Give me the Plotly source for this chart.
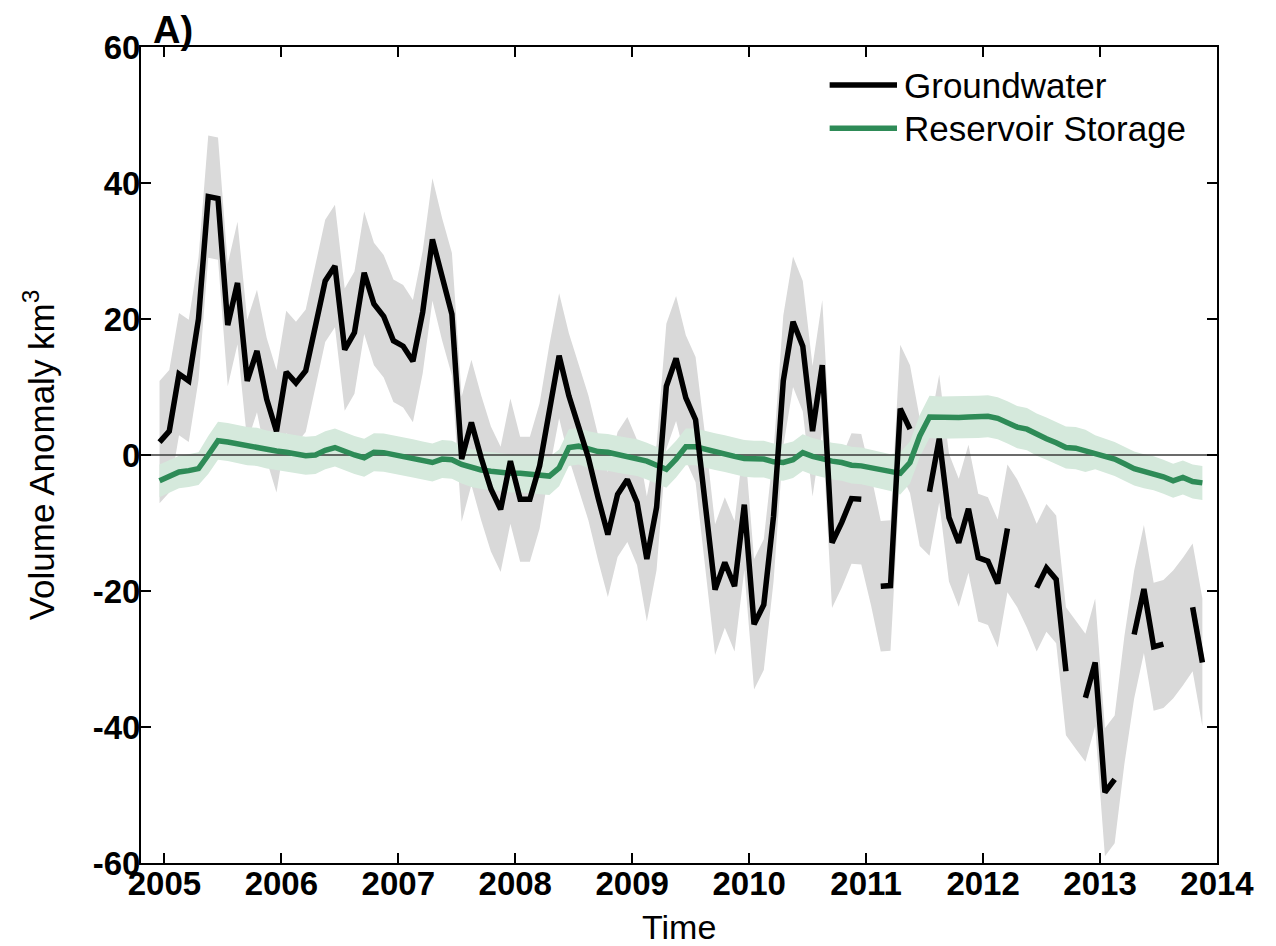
import plotly.graph_objects as go

# ---------------- data ----------------
# monthly samples, mid-month, starting December 2004 (108 months)
n_months = 108
time = [2004 + (11.5 + k) / 12 for k in range(n_months)]

# groundwater storage anomaly (km^3); None = missing month (gap in line)
gw = [
    1.9, 3.5, 11.9, 10.9, 20.0, 38.0, 37.7, 19.1, 25.3, 10.9,
    15.3, 8.2, 3.5, 12.2, 10.6, 12.4, 19.0, 25.6, 27.8, 15.5,
    18.0, 26.8, 22.2, 20.4, 16.8, 16.0, 13.8, 21.0, 31.7, 25.8,
    20.7, -0.6, 4.8, -0.4, -5.0, -8.0, -0.9, -6.5, -6.5, -1.6,
    7.0, 14.6, 8.7, 4.0, -0.4, -6.3, -11.7, -5.8, -3.6, -7.0,
    -15.3, -7.7, 10.1, 14.2, 8.4, 5.2, -7.0, -19.8, -15.8, -19.3,
    -7.3, -24.9, -22.0, -9.0, 10.9, 19.6, 16.0, 3.5, 13.2, -12.9,
    -9.9, -6.4, -6.5, None, -19.3, -19.2, 6.8, 3.8, None, -5.4,
    2.4, -9.2, -12.9, -7.9, -15.1, -15.6, -18.9, -10.8, None, None,
    -19.5, -16.6, -18.3, -31.8, None, -35.7, -30.5, -49.6, -47.7, None,
    -26.4, -19.7, -28.2, -27.8, None, None, -22.4, -30.5,
]
# centre of the uncertainty band in the months where the line is missing
gw_gap_center = {73: -12.5, 78: -4.0, 88: -13.0, 89: -16.0, 94: -33.8,
                 99: -36.0, 104: -26.4, 105: -24.5}
# half-width of the groundwater uncertainty band (km^3)
gw_err = [9.0] * 31 + [9.2] * 25 + [9.6] * 20 + [9.4] * 32

# reservoir storage anomaly (km^3)
res = [
    -3.8, -3.1, -2.5, -2.3, -2.0, 0.0, 2.1, 1.9, 1.6, 1.3,
    1.2, 0.8, 0.6, 0.4, 0.2, -0.1, 0.0, 0.7, 1.1, 0.5,
    0.0, -0.4, 0.4, 0.35, 0.1, -0.15, -0.5, -0.8, -1.1, -0.6,
    -0.7, -1.4, -1.9, -2.2, -2.4, -2.6, -2.7, -2.7, -2.8, -2.9,
    -3.1, -1.9, 1.1, 1.3, 0.8, 0.5, 0.4, 0.1, -0.1, -0.4,
    -0.9, -1.5, -2.1, -0.6, 1.2, 1.2, 0.8, 0.5, 0.2, -0.2,
    -0.5, -0.6, -0.6, -1.0, -1.1, -0.7, 0.35, -0.2, -0.6, -0.9,
    -1.1, -1.5, -1.6, -1.9, -2.3, -2.6, -2.7, -1.1, 2.8, 5.6,
    5.5, 5.5, 5.5, 5.6, 5.6, 5.7, 5.4, 4.8, 4.1, 3.8,
    3.0, 2.4, 1.8, 1.1, 1.0, 0.6, 0.4, -0.1, -0.6, -1.3,
    -2.0, -2.4, -2.7, -3.2, -3.8, -3.3, -3.9, -4.1,
]
res_err = [2.4] * 5 + [2.8] * 36 + [2.7] * 35 + [3.1] * 20 + [2.5] * 12

year_ticks = list(range(2005, 2015))
y_ticks = [-60, -40, -20, 0, 20, 40, 60]
y_tick_text = ["-60", "-40", "-20", "0", "20", "40", "60"]
X_RANGE = [2004.8, 2014.0]
Y_RANGE = [-60, 60]

series_names = ["Groundwater", "Reservoir Storage"]
x_title = "Time"
y_title = "Volume Anomaly km<sup>3</sup>"
panel_label = "<b>A)</b>"

# ---------------- derived bands ----------------
gw_center = [v if v is not None else gw_gap_center[k] for k, v in enumerate(gw)]
gw_hi = [c + e for c, e in zip(gw_center, gw_err)]
gw_lo = [c - e for c, e in zip(gw_center, gw_err)]
res_hi = [v + e for v, e in zip(res, res_err)]
res_lo = [v - e for v, e in zip(res, res_err)]

# ---------------- styles ----------------
BLACK = "#000000"
GREEN = "#2e8b57"
GREEN_BAND = "#d5e9dc"
GREY_BAND = "#d9d9d9"
FONT = "Liberation Sans, Arial, Helvetica, sans-serif"

fig = go.Figure()

# grey uncertainty band (groundwater)
fig.add_trace(go.Scatter(x=time, y=gw_lo, mode="lines", line=dict(width=0),
                         hoverinfo="skip", showlegend=False))
fig.add_trace(go.Scatter(x=time, y=gw_hi, mode="lines", line=dict(width=0),
                         fill="tonexty", fillcolor=GREY_BAND,
                         hoverinfo="skip", showlegend=False))
# light green band (reservoir)
fig.add_trace(go.Scatter(x=time, y=res_lo, mode="lines", line=dict(width=0),
                         hoverinfo="skip", showlegend=False))
fig.add_trace(go.Scatter(x=time, y=res_hi, mode="lines", line=dict(width=0),
                         fill="tonexty", fillcolor=GREEN_BAND,
                         hoverinfo="skip", showlegend=False))
# zero reference line across the axis
fig.add_trace(go.Scatter(x=X_RANGE, y=[0, 0], mode="lines",
                         line=dict(color="#3a3a3a", width=1.5),
                         hoverinfo="skip", showlegend=False))
# main series
fig.add_trace(go.Scatter(x=time, y=res, mode="lines", name=series_names[1],
                         line=dict(color=GREEN, width=5.5), showlegend=False))
fig.add_trace(go.Scatter(x=time, y=gw, mode="lines", name=series_names[0],
                         line=dict(color=BLACK, width=5.5), connectgaps=False,
                         showlegend=False))

axis_common = dict(
    showline=True, linewidth=2, linecolor="black", mirror="ticks",
    ticks="inside", ticklen=10, tickwidth=1.5, tickcolor="black",
    showgrid=False, zeroline=False, automargin=False,
    tickfont=dict(family=FONT, size=33, color="black", weight="bold"),
)

fig.update_xaxes(range=X_RANGE, tickvals=year_ticks,
                 ticktext=[str(y) for y in year_ticks], ticklabelstandoff=-10,
                 **axis_common)
fig.update_yaxes(range=Y_RANGE, tickvals=y_ticks, ticktext=y_tick_text,
                 ticklabelstandoff=-8, **axis_common)

# axis titles placed as annotations so they can sit exactly where the reference has them
fig.add_annotation(text=x_title, xref="paper", yref="paper", x=0.5, y=-0.0785,
                   xanchor="center", yanchor="middle", showarrow=False,
                   font=dict(family=FONT, size=34, color="black"))
fig.add_annotation(text=y_title, xref="paper", yref="paper", x=-0.0945, y=0.5,
                   xanchor="center", yanchor="middle", textangle=-90, showarrow=False,
                   font=dict(family=FONT, size=35, color="black"))

# manual legend (long line samples as in the reference)
legend_rows = [(series_names[0], BLACK, 0.9534), (series_names[1], GREEN, 0.9003)]
for name, color, yy in legend_rows:
    fig.add_shape(type="line", xref="paper", yref="paper",
                  x0=0.640, x1=0.7026, y0=yy, y1=yy,
                  line=dict(color=color, width=5.5))
    fig.add_annotation(text=name, xref="paper", yref="paper", x=0.707, y=yy,
                       xanchor="left", yanchor="middle", showarrow=False,
                       font=dict(family=FONT, size=35, color="black"))

# panel label
fig.add_annotation(text=panel_label, xref="paper", yref="paper",
                   x=0.0095, y=1.021, xanchor="left", yanchor="middle",
                   showarrow=False, font=dict(family=FONT, size=38, color="black"))

# the page adds an 8 px body margin, so the figure is 8 px smaller and the
# margins are shifted to keep the plot area where the reference has it
fig.update_layout(
    width=1268, height=938,
    margin=dict(l=133, r=59, t=39, b=83),
    paper_bgcolor="white", plot_bgcolor="white",
    showlegend=False,
)

fig.write_html("out.html")
